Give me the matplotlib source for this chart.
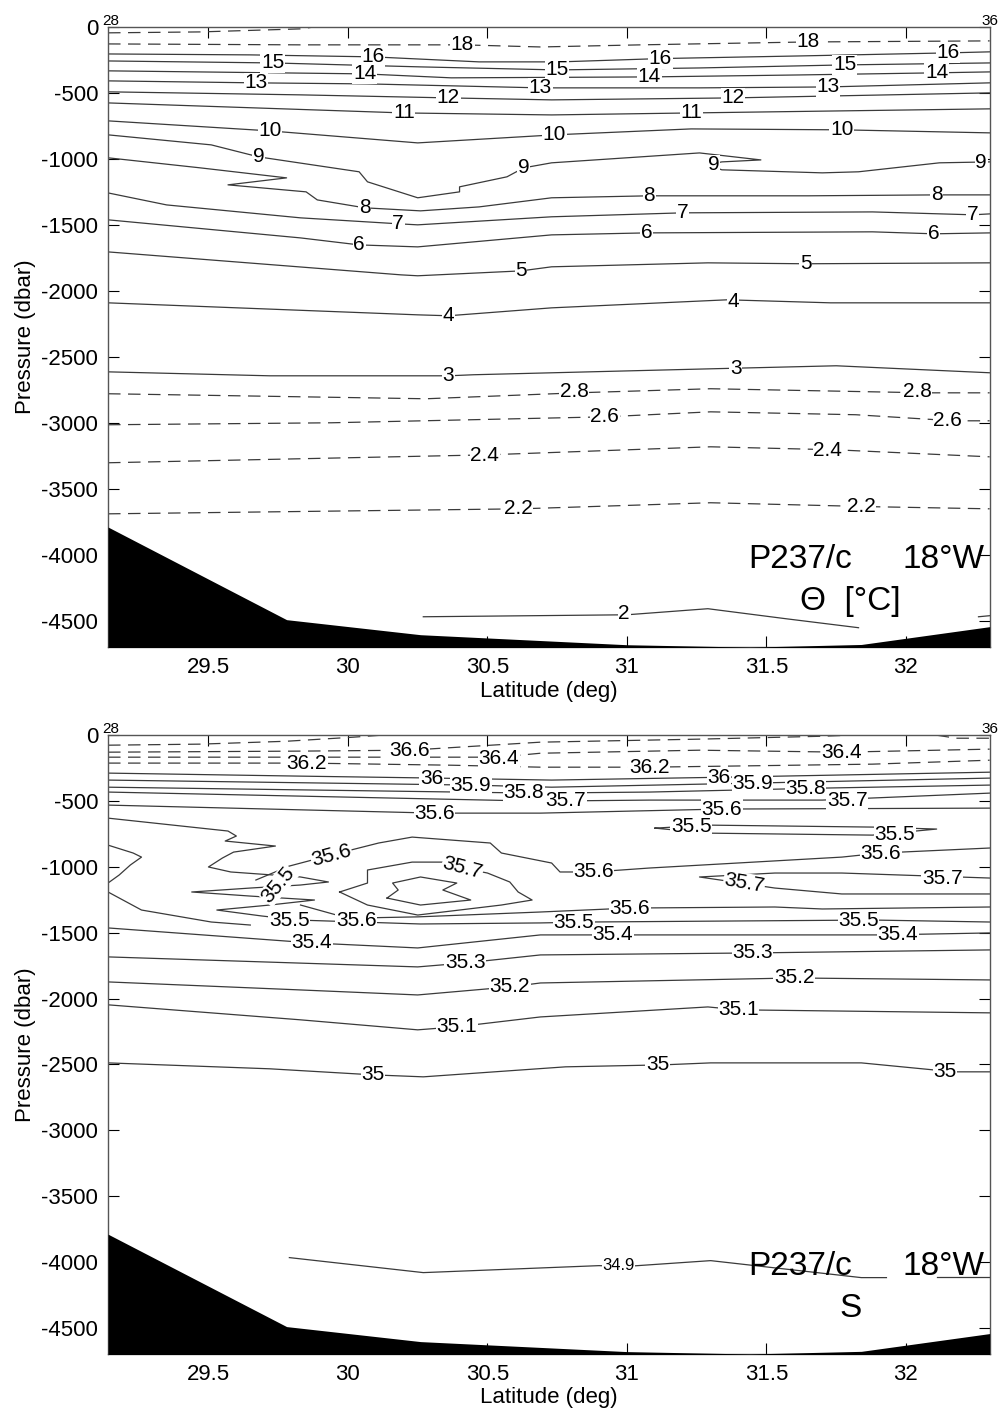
import matplotlib
matplotlib.use("Agg")
import matplotlib.pyplot as plt

plt.rcParams['font.family'] = ['Liberation Sans', 'DejaVu Sans']
plt.rcParams['axes.unicode_minus'] = False

# station section P237/c along 18W
xlim = (29.14, 32.30)
ylim = (-4700, 0)
xticks = [29.5, 30, 30.5, 31, 31.5, 32]
xticklabels = ['29.5', '30', '30.5', '31', '31.5', '32']
yticks = [0, -500, -1000, -1500, -2000, -2500, -3000, -3500, -4000, -4500]
yticklabels = ['0', '-500', '-1000', '-1500', '-2000', '-2500', '-3000', '-3500', '-4000', '-4500']

# bottom topography (lat, dbar)
bottom_lat = [29.14, 29.78, 30.26, 31.0, 31.44, 31.84, 32.30]
bottom_p = [-3790, -4492, -4606, -4682, -4700, -4680, -4545]

# ---- potential temperature isolines (lat, dbar)
theta_19 = [(29.14, -45), (29.47, -38), (29.83, -15), (29.88, 0)]
theta_18 = [(29.14, -129), (29.83, -136), (30.41, -136), (30.69, -152), (31.05, -136), (31.65, -114), (32.30, -106)]
theta_16 = [(29.14, -205), (29.65, -212), (30.09, -227), (30.47, -265), (30.76, -265), (31.12, -240),
            (31.62, -220), (32.15, -197), (32.30, -189)]
theta_15 = [(29.14, -258), (29.73, -273), (30.26, -303), (30.75, -326), (31.26, -311), (31.78, -288), (32.30, -273)]
theta_14 = [(29.14, -333), (30.06, -356), (30.37, -386), (31.08, -379), (31.62, -364), (32.11, -348), (32.30, -341)]
theta_13 = [(29.14, -409), (29.67, -424), (30.07, -432), (30.69, -462), (31.26, -462), (31.72, -455), (32.30, -424)]
theta_12 = [(29.14, -492), (29.83, -515), (30.36, -538), (30.73, -553), (31.38, -538), (32.30, -500)]
theta_11 = [(29.14, -576), (30.20, -652), (30.73, -667), (31.23, -652), (32.30, -621)]
theta_10 = [(29.14, -712), (29.72, -788), (30.25, -879), (30.74, -818), (31.23, -773), (31.77, -780), (32.30, -803)]
theta_9 = [(29.14, -818), (29.51, -894), (29.68, -985), (30.04, -1098), (30.07, -1174), (30.25, -1295),
           (30.40, -1250), (30.40, -1212), (30.57, -1136), (30.63, -1068), (30.73, -1030), (31.26, -955),
           (31.48, -1008), (31.34, -1023), (31.29, -1045), (31.34, -1083), (31.70, -1106), (31.83, -1098),
           (32.12, -1030), (32.30, -1023)]
theta_8 = [(29.14, -992), (29.47, -1068), (29.78, -1144), (29.57, -1197), (29.85, -1250), (29.89, -1311),
           (30.06, -1371), (30.26, -1394), (30.47, -1364), (30.73, -1295), (31.08, -1280), (31.65, -1280),
           (32.11, -1273), (32.30, -1273)]
theta_7 = [(29.14, -1258), (29.35, -1349), (29.83, -1447), (30.18, -1492), (30.25, -1500), (30.73, -1439),
           (31.20, -1409), (31.88, -1402), (32.24, -1424), (32.30, -1417)]
theta_6 = [(29.14, -1462), (29.83, -1599), (30.04, -1652), (30.25, -1667), (30.73, -1576), (31.07, -1561),
           (31.88, -1553), (32.10, -1568), (32.30, -1561)]
theta_5 = [(29.14, -1705), (30.19, -1879), (30.25, -1886), (30.62, -1849), (30.73, -1818), (31.29, -1788),
           (31.64, -1795), (32.30, -1788)]
theta_4 = [(29.14, -2091), (30.25, -2182), (30.36, -2189), (30.73, -2129), (31.36, -2068), (31.73, -2091), (32.30, -2091)]
theta_3 = [(29.14, -2614), (29.72, -2644), (30.36, -2644), (30.45, -2636), (31.30, -2591), (31.75, -2568), (32.30, -2621)]
theta_2_8 = [(29.14, -2780), (30.28, -2818), (30.82, -2773), (31.30, -2742), (32.07, -2773), (32.30, -2773)]
theta_2_6 = [(29.14, -3015), (29.94, -3000), (30.92, -2955), (31.30, -2917), (31.82, -2939), (32.17, -2985), (32.30, -2985)]
theta_2_4 = [(29.14, -3303), (30.50, -3243), (31.30, -3182), (31.75, -3205), (32.30, -3258)]
theta_2_2 = [(29.14, -3690), (30.62, -3652), (31.30, -3606), (31.88, -3636), (32.30, -3652)]
theta_2 = [(30.27, -4470), (31.00, -4455), (31.29, -4409), (31.57, -4485), (31.83, -4553)]
theta_2b = [(32.26, -4470), (32.30, -4462)]

theta_solid = [theta_16, theta_15, theta_14, theta_13, theta_12, theta_11, theta_10, theta_9, theta_8,
               theta_7, theta_6, theta_5, theta_4, theta_3, theta_2, theta_2b]
theta_dashed = [theta_19, theta_18, theta_2_8, theta_2_6, theta_2_4, theta_2_2]

# (lat, dbar, text, rotation)
theta_labels = [
    (30.41, -136, '18', 0), (31.65, -114, '18', 0),
    (30.09, -227, '16', 0), (31.12, -240, '16', 0), (32.15, -197, '16', 0),
    (29.73, -273, '15', 0), (30.75, -326, '15', 0), (31.78, -288, '15', 0),
    (30.06, -356, '14', 0), (31.08, -379, '14', 0), (32.11, -348, '14', 0),
    (29.67, -424, '13', 0), (30.69, -462, '13', 0), (31.72, -455, '13', 0),
    (30.36, -538, '12', 0), (31.38, -538, '12', 0),
    (30.20, -652, '11', 0), (31.23, -652, '11', 0),
    (29.72, -788, '10', 0), (30.74, -818, '10', 0), (31.77, -780, '10', 0),
    (29.68, -985, '9', 0), (30.63, -1068, '9', 0), (31.31, -1045, '9', 0), (32.27, -1030, '9', 0),
    (30.06, -1371, '8', 0), (31.08, -1280, '8', 0), (32.11, -1273, '8', 0),
    (30.18, -1492, '7', 0), (31.20, -1409, '7', 0), (32.24, -1424, '7', 0),
    (30.04, -1652, '6', 0), (31.07, -1561, '6', 0), (32.10, -1568, '6', 0),
    (30.62, -1849, '5', 0), (31.64, -1795, '5', 0),
    (30.36, -2189, '4', 0), (31.38, -2083, '4', 0),
    (30.36, -2644, '3', 0), (31.39, -2591, '3', 0),
    (30.81, -2765, '2.8', 0), (32.04, -2765, '2.8', 0),
    (30.92, -2955, '2.6', 0), (32.15, -2985, '2.6', 0),
    (30.49, -3250, '2.4', 0), (31.72, -3212, '2.4', 0),
    (30.61, -3652, '2.2', 0), (31.84, -3636, '2.2', 0),
    (30.99, -4447, '2', 0),
]

# ---- salinity isolines (lat, dbar)
sal_36_8 = [(29.14, -76), (29.47, -68), (29.78, -46), (30.02, -15), (30.12, 0)]
sal_36_6 = [(29.14, -129), (29.83, -121), (30.22, -114), (30.69, -53), (31.26, -30), (31.70, -8), (31.80, 0)]
sal_36_6b = [(32.11, 0), (32.18, -23), (32.30, -23)]
sal_36_4 = [(29.14, -167), (29.83, -167), (30.54, -167), (30.69, -137), (31.26, -114), (31.77, -129), (32.30, -106)]
sal_36_2 = [(29.14, -212), (29.85, -212), (30.37, -228), (30.69, -243), (31.08, -243), (31.88, -220), (32.30, -190)]
sal_36_0 = [(29.14, -288), (29.83, -311), (30.32, -326), (30.73, -341), (31.35, -319), (32.30, -281)]
sal_35_9 = [(29.14, -341), (30.44, -379), (30.73, -395), (31.45, -364), (32.30, -326)]
sal_35_8 = [(29.14, -395), (30.67, -440), (31.08, -432), (31.70, -402), (32.30, -379)]
sal_35_7 = [(29.14, -432), (30.68, -501), (31.08, -493), (31.70, -493), (32.30, -440)]
sal_35_6 = [(29.14, -531), (30.31, -592), (30.69, -592), (31.34, -561), (32.30, -554)]
sal_35_5_lens = [(31.10, -706), (31.29, -683), (31.88, -698), (32.11, -713), (31.88, -759), (31.29, -744), (31.10, -706)]
sal_35_5 = [(29.14, -630), (29.57, -728), (29.60, -766), (29.56, -804), (29.74, -842), (29.59, -888),
            (29.55, -933), (29.50, -1001), (29.58, -1039), (29.83, -1077), (29.93, -1115), (29.83, -1138),
            (29.65, -1161), (29.44, -1191), (29.65, -1222), (29.88, -1252), (29.72, -1290), (29.53, -1328),
            (29.69, -1373), (29.82, -1404), (30.26, -1434), (30.69, -1426), (30.86, -1419), (31.88, -1404),
            (32.30, -1419)]
sal_35_5_west = [(29.14, -835), (29.23, -895), (29.26, -926), (29.22, -986), (29.18, -1062), (29.14, -1123)]
sal_35_5_c = [(29.14, -1191), (29.26, -1328), (29.51, -1419), (29.65, -1442)]
sal_35_6_mid = [(29.67, -1100), (29.79, -994), (29.94, -910), (30.11, -819), (30.23, -774), (30.51, -819),
                (30.55, -895), (30.73, -971), (30.76, -1039), (30.88, -1039), (31.08, -1009), (31.77, -926),
                (31.91, -895), (32.30, -857)]
sal_35_6_low = [(29.83, -1290), (30.00, -1390), (30.25, -1380), (30.69, -1343), (31.01, -1313), (31.53, -1305),
                (31.70, -1320), (32.30, -1305)]
sal_35_7_core = [(29.97, -1191), (30.07, -1123), (30.07, -1024), (30.23, -964), (30.34, -964), (30.41, -1009),
                 (30.50, -1047), (30.58, -1115), (30.61, -1191), (30.66, -1252), (30.55, -1290), (30.25, -1366),
                 (30.07, -1290), (29.97, -1191)]
sal_35_8_core = [(30.14, -1237), (30.18, -1176), (30.16, -1123), (30.26, -1077), (30.39, -1123), (30.34, -1176),
                 (30.44, -1252), (30.26, -1290), (30.14, -1237)]
sal_35_7_east = [(32.30, -1085), (31.77, -1047), (31.53, -1047), (31.26, -1077), (31.53, -1161), (31.77, -1206),
                 (32.30, -1206)]
sal_35_4 = [(29.14, -1464), (29.87, -1578), (30.25, -1616), (30.69, -1517), (30.89, -1517), (31.92, -1517), (32.30, -1502)]
sal_35_3 = [(29.14, -1684), (30.25, -1760), (30.42, -1730), (30.69, -1669), (31.45, -1654), (32.30, -1631)]
sal_35_2 = [(29.14, -1874), (29.83, -1935), (30.25, -1973), (30.58, -1912), (30.69, -1882), (31.60, -1844), (32.30, -1859)]
sal_35_1 = [(29.14, -2048), (29.83, -2162), (30.25, -2238), (30.39, -2215), (30.69, -2140), (31.29, -2064),
            (31.40, -2086), (32.30, -2109)]
sal_35_0 = [(29.14, -2489), (29.72, -2534), (30.09, -2580), (30.27, -2595), (30.78, -2519), (31.13, -2504),
            (31.30, -2489), (31.84, -2489), (32.17, -2557), (32.30, -2557)]
sal_34_9 = [(29.79, -3968), (30.27, -4082), (30.90, -4029), (30.99, -4036), (31.30, -3991), (31.84, -4120), (31.93, -4120)]
sal_34_9b = [(32.11, -4112), (32.30, -4112)]

sal_solid = [sal_36_0, sal_35_9, sal_35_8, sal_35_7, sal_35_6, sal_35_5_lens, sal_35_5, sal_35_5_west,
             sal_35_5_c, sal_35_6_mid, sal_35_6_low, sal_35_7_core, sal_35_8_core, sal_35_7_east,
             sal_35_4, sal_35_3, sal_35_2, sal_35_1, sal_35_0, sal_34_9, sal_34_9b]
sal_dashed = [sal_36_8, sal_36_6, sal_36_6b, sal_36_4, sal_36_2]

sal_labels = [
    (30.22, -114, '36.6', 0),
    (30.54, -175, '36.4', 0), (31.77, -129, '36.4', 0),
    (29.85, -212, '36.2', 0), (31.08, -243, '36.2', 0),
    (30.30, -326, '36', 0), (31.33, -319, '36', 0),
    (30.44, -379, '35.9', 0), (31.45, -364, '35.9', 0),
    (30.63, -432, '35.8', 0), (31.64, -402, '35.8', 0),
    (30.78, -493, '35.7', 0), (31.79, -493, '35.7', 0),
    (30.31, -592, '35.6', 0), (31.34, -561, '35.6', 0),
    (31.23, -690, '35.5', 0), (31.96, -751, '35.5', 0),
    (29.94, -910, '35.6', 15), (30.88, -1039, '35.6', 0), (31.91, -895, '35.6', 0),
    (30.41, -1009, '35.7', -15), (31.42, -1123, '35.7', -10), (32.13, -1085, '35.7', 0),
    (29.75, -1138, '35.5', 50), (29.79, -1404, '35.5', 0), (30.81, -1419, '35.5', 0), (31.83, -1404, '35.5', 0),
    (30.03, -1405, '35.6', 0), (31.01, -1313, '35.6', 0),
    (29.87, -1578, '35.4', 0), (30.95, -1517, '35.4', 0), (31.97, -1517, '35.4', 0),
    (30.42, -1730, '35.3', 0), (31.45, -1654, '35.3', 0),
    (30.58, -1912, '35.2', 0), (31.60, -1844, '35.2', 0),
    (30.39, -2215, '35.1', 0), (31.40, -2086, '35.1', 0),
    (30.09, -2580, '35', 0), (31.11, -2504, '35', 0), (32.14, -2557, '35', 0),
]
sal_label_small = (30.97, -4025, '34.9')

line_col = '#3a3a3a'


def put_label(ax, lat, p, txt, rot, size):
    ax.text(lat, p, txt, ha='center', va='center', rotation=rot, fontsize=size, zorder=3,
            bbox=dict(boxstyle='square,pad=0.03', fc='white', ec='none'))


def draw_panel(ax, solid, dashed, labels, title2):
    for pts in solid:
        lat, p = zip(*pts)
        ax.plot(lat, p, color=line_col, lw=0.9, zorder=2)
    for pts in dashed:
        lat, p = zip(*pts)
        ax.plot(lat, p, color=line_col, lw=0.9, ls=(0, (10, 6)), zorder=2)
    for lat, p, txt, rot in labels:
        put_label(ax, lat, p, txt, rot, 15)
    ax.fill_between(bottom_lat, bottom_p, ylim[0] - 50, color='black', lw=0, zorder=4)
    ax.set_xlim(*xlim)
    ax.set_ylim(*ylim)
    ax.set_xticks(xticks)
    ax.set_xticklabels(xticklabels)
    ax.set_yticks(yticks)
    ax.set_yticklabels(yticklabels)
    ax.tick_params(direction='in', top=True, right=True, length=8, width=0.8, labelsize=16, pad=7)
    for s in ax.spines.values():
        s.set_color('#555555')
        s.set_linewidth(1.0)
    ax.set_xlabel('Latitude (deg)', fontsize=16, labelpad=2)
    ax.set_ylabel('Pressure (dbar)', fontsize=16, labelpad=4)
    ax.text(31.435, -4100, 'P237/c', fontsize=24, ha='left', va='baseline', zorder=5)
    ax.text(32.28, -4100, '18°W', fontsize=24, ha='right', va='baseline', zorder=5)
    ax.text(31.80, -4420, title2, fontsize=24, ha='center', va='baseline', zorder=5)
    ax.text(-0.007, 1.003, '28', transform=ax.transAxes, fontsize=11, ha='left', va='baseline')
    ax.text(0.991, 1.003, '36', transform=ax.transAxes, fontsize=11, ha='left', va='baseline')


fig = plt.figure(figsize=(10.03, 14.16), dpi=100)
ax1 = fig.add_axes([0.1077, 0.543, 0.879, 0.438])
ax2 = fig.add_axes([0.1077, 0.0438, 0.879, 0.437])

draw_panel(ax1, theta_solid, theta_dashed, theta_labels, 'Θ  [°C]')
draw_panel(ax2, sal_solid, sal_dashed, sal_labels, 'S')
put_label(ax2, sal_label_small[0], sal_label_small[1], sal_label_small[2], 0, 12)

fig.savefig('out.png', dpi=100)
